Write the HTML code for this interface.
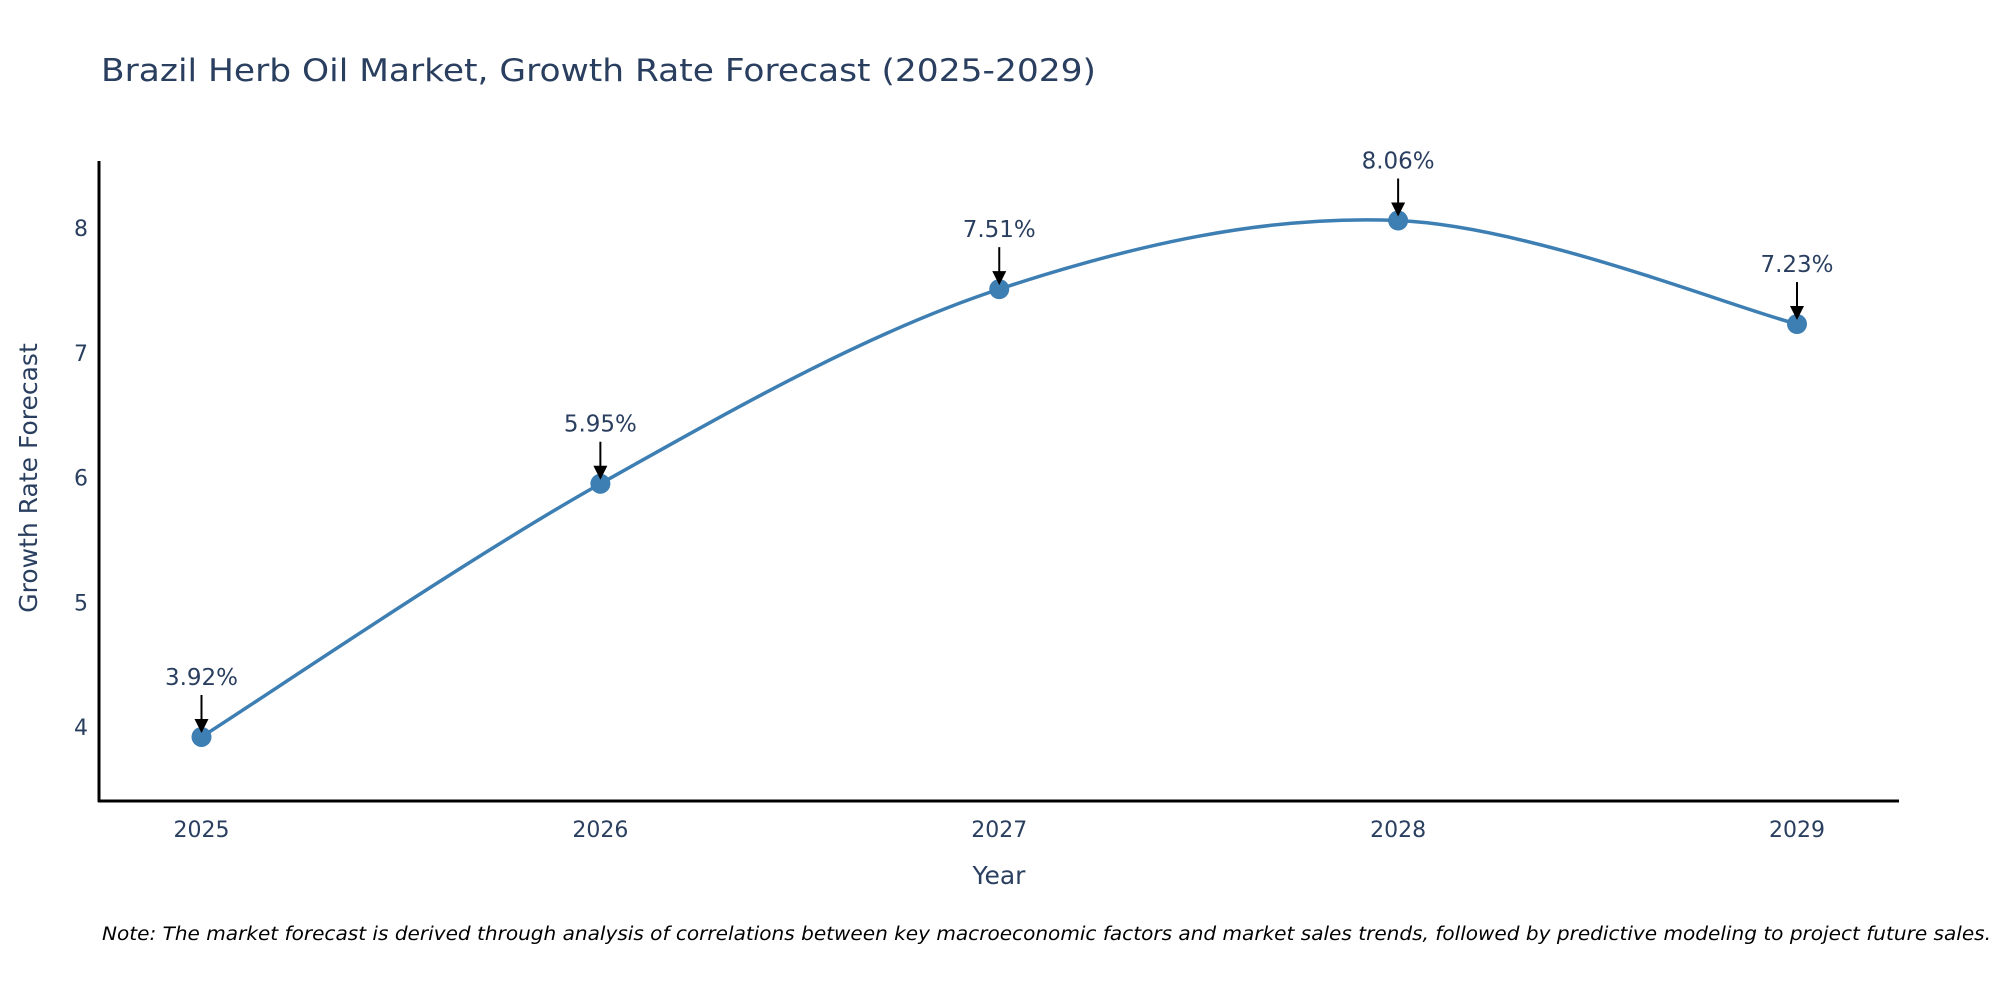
<!DOCTYPE html>
<html><head><meta charset="utf-8"><style>
body{margin:0;background:#fff;}
svg{display:block;font-family:"DejaVu Sans","Liberation Sans",sans-serif;}
</style></head><body>
<svg id="chart" width="2000" height="1000" viewBox="0 0 2000 1000">
<text x="101" y="81" font-size="31" fill="#2a3f5f" textLength="995" lengthAdjust="spacingAndGlyphs">Brazil Herb Oil Market, Growth Rate Forecast (2025-2029)</text>
<line x1="99" y1="161" x2="99" y2="802" stroke="#000" stroke-width="3"/>
<line x1="98" y1="801" x2="1899" y2="801" stroke="#000" stroke-width="3"/>
<g id="yticks"></g><g id="xticks"></g>
<path id="line" fill="none" stroke="#3d7eb3" stroke-width="3.5"/>
<g id="points"></g><g id="annots"></g>
<text x="999" y="884" font-size="25" fill="#2a3f5f" text-anchor="middle">Year</text>
<text transform="translate(37,478) rotate(-90)" font-size="25" fill="#2a3f5f" text-anchor="middle">Growth Rate Forecast</text>
<text x="102" y="940" font-size="18.5" font-style="italic" fill="#000" textLength="1889" lengthAdjust="spacingAndGlyphs">Note: The market forecast is derived through analysis of correlations between key macroeconomic factors and market sales trends, followed by predictive modeling to project future sales.</text>
</svg>
<script>
const categories=["2025","2026","2027","2028","2029"];
const values=[3.92,5.95,7.51,8.06,7.23];
const yTicks=[4,5,6,7,8];
const NS="http://www.w3.org/2000/svg";
function xs(i){return 201.5+i*(1797-201.5)/4;}
function ys(v){return 727-(v-4)*124.75;}
function mk(tag,attrs,parent){const e=document.createElementNS(NS,tag);for(const k in attrs)e.setAttribute(k,attrs[k]);parent.appendChild(e);return e;}
const yt=document.getElementById('yticks'),xt=document.getElementById('xticks');
yTicks.forEach(t=>{const e=mk('text',{x:88,y:ys(t)+8,'font-size':22,fill:'#2a3f5f','text-anchor':'end'},yt);e.textContent=t;

});
categories.forEach((c,i)=>{const e=mk('text',{x:xs(i),y:837,'font-size':22,fill:'#2a3f5f','text-anchor':'middle'},xt);e.textContent=c;

});
const P=values.map((v,i)=>[xs(i),ys(v)]);
let d="M"+P[0][0]+","+P[0][1];const s=1/3;
for(let i=0;i<P.length-1;i++){const p0=P[Math.max(0,i-1)],p1=P[i],p2=P[i+1],p3=P[Math.min(P.length-1,i+2)];
const c1=[p1[0]+(p2[0]-p0[0])*s/2,p1[1]+(p2[1]-p0[1])*s/2];
const c2=[p2[0]-(p3[0]-p1[0])*s/2,p2[1]-(p3[1]-p1[1])*s/2];
d+=" C"+c1+" "+c2+" "+p2;}
document.getElementById('line').setAttribute('d',d);
const pts=document.getElementById('points'),an=document.getElementById('annots');
values.forEach((v,i)=>{const x=xs(i),y=ys(v);
const c=mk('circle',{cx:x,cy:y,r:10,fill:'#3d7eb3'},pts);


const l=mk('line',{x1:x,y1:y-42,x2:x,y2:y-16,stroke:'#000','stroke-width':2},an);


const h=mk('polygon',{points:`${x-7},${y-18} ${x+7},${y-18} ${x},${y-4}`,fill:'#000'},an);


const t=mk('text',{x:x,y:y-52,'font-size':23,fill:'#2a3f5f','text-anchor':'middle'},an);t.textContent=v.toFixed(2)+"%";

});
</script>
</body></html>
